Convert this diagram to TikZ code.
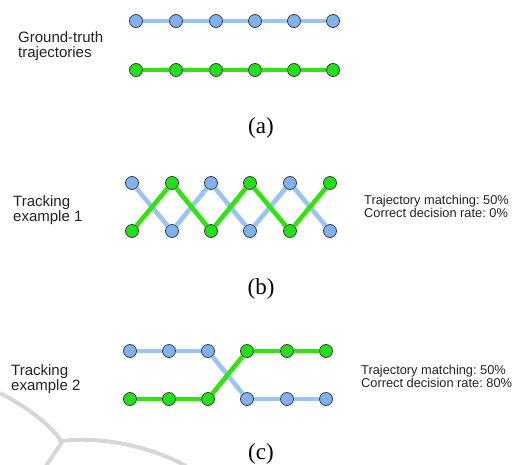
\documentclass[tikz,border=0pt]{standalone}
\usepackage{fontspec}
\setmainfont{Liberation Serif}
\newfontfamily\labelfont{Liberation Sans}
\usepackage{tikz}
\usetikzlibrary{positioning}
\frenchspacing
\definecolor{trackblue}{HTML}{80B2F2}
\definecolor{trackbluelight}{HTML}{9CC4F2}
\definecolor{trackgreen}{HTML}{22E11B}
\definecolor{trackgreenlight}{HTML}{33E30F}
\definecolor{dotedge}{HTML}{3A3A3A}
\definecolor{textdark}{HTML}{222222}
\definecolor{markgray}{HTML}{D6D6D6}
\tikzset{
  bdot/.style={circle, draw=dotedge, line width=0.8pt, fill=trackblue, minimum size=13pt, inner sep=0pt},
  gdot/.style={circle, draw=dotedge, line width=0.8pt, fill=trackgreen, minimum size=13pt, inner sep=0pt},
  bline/.style={trackbluelight, line width=4.6pt},
  gline/.style={trackgreenlight, line width=4.6pt},
  sidelabel/.style={textdark, anchor=north west, inner sep=0pt, align=left, font=\labelfont\fontsize{15}{15}\selectfont},
  ratelabel/.style={textdark, anchor=north west, inner sep=0pt, align=left, font=\labelfont\fontsize{12.8}{12.8}\selectfont},
  caption/.style={black, font=\fontsize{23}{23}\selectfont}
}
\begin{document}
\begin{tikzpicture}[x=1pt, y=-1pt]
  \useasboundingbox (0,0) rectangle (516,464);

  % Faint mark behind the bottom panel
  \draw[markgray, line width=4pt] (0,393) .. controls (28,408) and (50,424) .. (62,442);
  \draw[markgray, line width=4pt] (62,441) .. controls (100,436) and (150,446) .. (186,466);
  \draw[markgray, line width=4pt] (62,442) -- (46,466);

  % (a) Ground-truth trajectories
  \node[sidelabel] (gtlabel) at (18,31) {Ground-truth\\trajectories};

  \node[bdot] (a-b1) at (136,21) {};
  \node[bdot] (a-b2) at (176,21) {};
  \node[bdot] (a-b3) at (216,21) {};
  \node[bdot] (a-b4) at (255,21) {};
  \node[bdot] (a-b5) at (294,21) {};
  \node[bdot] (a-b6) at (333,21) {};

  \node[gdot] (a-g1) at (136,70) {};
  \node[gdot] (a-g2) at (176,70) {};
  \node[gdot] (a-g3) at (216,70) {};
  \node[gdot] (a-g4) at (255,70) {};
  \node[gdot] (a-g5) at (294,70) {};
  \node[gdot] (a-g6) at (333,70) {};

  \draw[bline] (a-b1) -- (a-b2) -- (a-b3) -- (a-b4) -- (a-b5) -- (a-b6);
  \draw[gline] (a-g1) -- (a-g2) -- (a-g3) -- (a-g4) -- (a-g5) -- (a-g6);

  \node[caption] (capa) at (261,128) {(a)};

  % (b) Tracking example 1
  \node[sidelabel] (ex1label) at (13,195) {Tracking\\example 1};
  \node[ratelabel] (ex1rate) at (364,195) {Trajectory matching: 50\%\\Correct decision rate: 0\%};

  \node[bdot] (b-b1) at (132,183) {};
  \node[gdot] (b-g2) at (172,183) {};
  \node[bdot] (b-b3) at (211,183) {};
  \node[gdot] (b-g4) at (250,183) {};
  \node[bdot] (b-b5) at (290,183) {};
  \node[gdot] (b-g6) at (330,183) {};

  \node[gdot] (b-g1) at (132,231) {};
  \node[bdot] (b-b2) at (172,231) {};
  \node[gdot] (b-g3) at (211,231) {};
  \node[bdot] (b-b4) at (250,231) {};
  \node[gdot] (b-g5) at (290,231) {};
  \node[bdot] (b-b6) at (330,231) {};

  \draw[bline] (b-b1) -- (b-b2);
  \draw[bline] (b-b2) -- (b-b3);
  \draw[bline] (b-b3) -- (b-b4);
  \draw[bline] (b-b4) -- (b-b5);
  \draw[bline] (b-b5) -- (b-b6);
  \draw[gline] (b-g1) -- (b-g2);
  \draw[gline] (b-g2) -- (b-g3);
  \draw[gline] (b-g3) -- (b-g4);
  \draw[gline] (b-g4) -- (b-g5);
  \draw[gline] (b-g5) -- (b-g6);

  \node[caption] (capb) at (261,289) {(b)};

  % (c) Tracking example 2
  \node[sidelabel] (ex2label) at (11,364) {Tracking\\example 2};
  \node[ratelabel] (ex2rate) at (361,365) {Trajectory matching: 50\%\\Correct decision rate: 80\%};

  \node[bdot] (c-b1) at (130,351) {};
  \node[bdot] (c-b2) at (169,351) {};
  \node[bdot] (c-b3) at (208,351) {};
  \node[gdot] (c-g4) at (247,351) {};
  \node[gdot] (c-g5) at (287,351) {};
  \node[gdot] (c-g6) at (326,351) {};

  \node[gdot] (c-g1) at (130,399) {};
  \node[gdot] (c-g2) at (169,399) {};
  \node[gdot] (c-g3) at (208,399) {};
  \node[bdot] (c-b4) at (247,399) {};
  \node[bdot] (c-b5) at (287,399) {};
  \node[bdot] (c-b6) at (326,399) {};

  \draw[bline] (c-b1) -- (c-b2);
  \draw[bline] (c-b2) -- (c-b3);
  \draw[bline] (c-b3) -- (c-b4);
  \draw[bline] (c-b4) -- (c-b5);
  \draw[bline] (c-b5) -- (c-b6);
  \draw[gline] (c-g1) -- (c-g2);
  \draw[gline] (c-g2) -- (c-g3);
  \draw[gline] (c-g3) -- (c-g4);
  \draw[gline] (c-g4) -- (c-g5);
  \draw[gline] (c-g5) -- (c-g6);

  \node[caption] (capc) at (261,454) {(c)};
\end{tikzpicture}
\end{document}
